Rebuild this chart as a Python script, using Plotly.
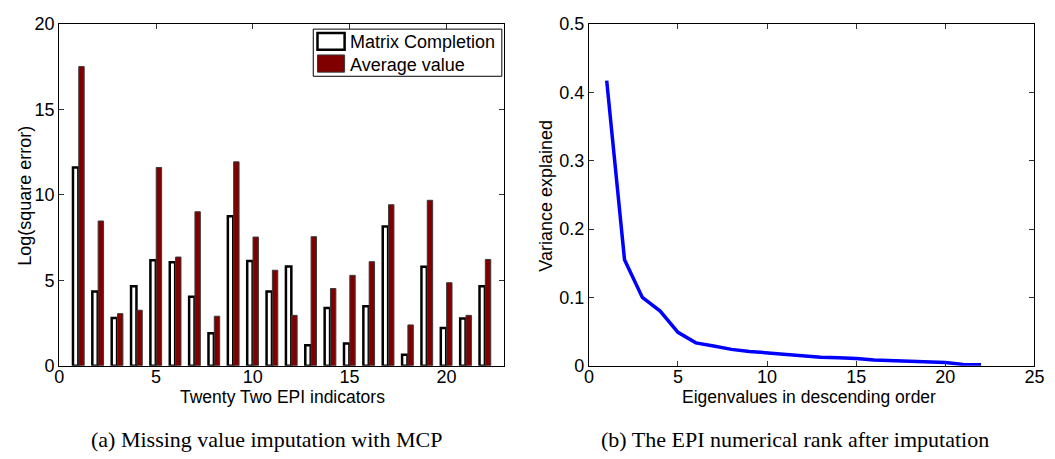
import plotly.graph_objects as go

# ---------------- data ----------------
indicators = list(range(1, 23))
matrix_completion = [11.6, 4.35, 2.8, 4.65, 6.17, 6.06, 4.04, 1.91, 8.75, 6.13, 4.34,
                     5.81, 1.20, 3.38, 1.31, 3.48, 8.15, 0.64, 5.79, 2.21, 2.77, 4.65]
average_value = [17.5, 8.47, 3.05, 3.25, 11.6, 6.36, 9.01, 2.90, 11.93, 7.53, 5.59,
                 2.95, 7.55, 4.52, 5.29, 6.09, 9.42, 2.39, 9.68, 4.86, 2.95, 6.22]

eig_index = list(range(1, 23))
variance_explained = [0.417, 0.155, 0.100, 0.080, 0.049, 0.0335, 0.029, 0.024, 0.021,
                      0.019, 0.0167, 0.014, 0.0126, 0.0116, 0.0107, 0.0084, 0.0074,
                      0.0065, 0.0056, 0.0047, 0.0020, 0.0014]

left_xticks = [0, 5, 10, 15, 20]
left_yticks = [0, 5, 10, 15, 20]
right_xticks = [0, 5, 10, 15, 20, 25]
right_yticks = [0, 0.1, 0.2, 0.3, 0.4, 0.5]

W, H = 1055, 459
SANS = "Liberation Sans, Arial, Helvetica, sans-serif"
SERIF = "Liberation Serif, Times New Roman, serif"
DARKRED = "#800000"


def px(x):
    return x / W


def py(y):
    return 1 - y / H


fig = go.Figure()

fig.add_trace(go.Bar(
    x=indicators, y=matrix_completion, name="Matrix Completion",
    marker=dict(color="white", line=dict(color="black", width=2.5)),
    xaxis="x", yaxis="y", showlegend=False,
))
fig.add_trace(go.Bar(
    x=indicators, y=average_value, name="Average value",
    marker=dict(color=DARKRED, line=dict(color="#3a3a3a", width=1)),
    xaxis="x", yaxis="y", showlegend=False,
))
fig.add_trace(go.Scatter(
    x=eig_index, y=variance_explained, mode="lines", name="Variance explained",
    line=dict(color="#0000ff", width=3.5),
    xaxis="x2", yaxis="y2", showlegend=False,
))

axis_common = dict(
    showline=True, linecolor="black", linewidth=1, mirror="ticks",
    ticks="inside", ticklen=5, tickcolor="#333333", tickwidth=1,
    showgrid=False, zeroline=False,
    tickfont=dict(family=SANS, size=18, color="black"),
)

ydom = [py(372), py(14.5)]

fig.update_layout(
    width=W, height=H,
    margin=dict(l=0, r=0, t=0, b=0),
    paper_bgcolor="white", plot_bgcolor="white",
    barmode="group", bargap=0.4, bargroupgap=0.07,
    xaxis=dict(domain=[px(55), px(506.7)], range=[0, 23], tickvals=left_xticks,
               anchor="y", ticklabelstandoff=-5, **axis_common),
    yaxis=dict(domain=ydom, range=[0, 20], tickvals=left_yticks,
               anchor="x", **axis_common),
    xaxis2=dict(domain=[px(592.3), px(1044.3)], range=[0, 25], tickvals=right_xticks,
                anchor="y2", ticklabelstandoff=-5, **axis_common),
    yaxis2=dict(domain=ydom, range=[0, 0.5], tickvals=right_yticks,
                ticktext=["0", "0.1", "0.2", "0.3", "0.4", "0.5"],
                anchor="x2", **axis_common),
    showlegend=False,
)

ann_font = dict(family=SANS, size=18, color="black")
title_font = dict(family=SANS, size=17.5, color="black")
annotations = [
    dict(text="Twenty Two EPI indicators", x=px(281.7), y=py(405), xref="paper", yref="paper",
         xanchor="center", yanchor="middle", showarrow=False, font=title_font),
    dict(text="Eigenvalues in descending order", x=px(816), y=py(405), xref="paper", yref="paper",
         xanchor="center", yanchor="middle", showarrow=False, font=title_font),
    dict(text="Log(square error)", x=px(19.5), y=py(194), xref="paper", yref="paper",
         xanchor="center", yanchor="middle", textangle=-90, showarrow=False, font=ann_font),
    dict(text="Variance explained", x=px(548), y=py(194), xref="paper", yref="paper",
         xanchor="center", yanchor="middle", textangle=-90, showarrow=False, font=ann_font),
    dict(text="(a) Missing value imputation with MCP", x=px(265), y=py(449), xref="paper", yref="paper",
         xanchor="center", yanchor="middle", showarrow=False,
         font=dict(family=SERIF, size=22, color="black")),
    dict(text="(b) The EPI numerical rank after imputation", x=px(801), y=py(449), xref="paper", yref="paper",
         xanchor="center", yanchor="middle", showarrow=False,
         font=dict(family=SERIF, size=22, color="black")),
    # legend labels
    dict(text="Matrix Completion", x=px(348), y=py(33), xref="paper", yref="paper",
         xanchor="left", yanchor="middle", showarrow=False, font=ann_font),
    dict(text="Average value", x=px(348), y=py(57), xref="paper", yref="paper",
         xanchor="left", yanchor="middle", showarrow=False, font=ann_font),
]

shapes = [
    # legend box
    dict(type="rect", xref="paper", yref="paper", x0=px(312.7), x1=px(504), y0=py(69.3), y1=py(20),
         line=dict(color="black", width=1), fillcolor="white", layer="above"),
    # swatches
    dict(type="rect", xref="paper", yref="paper", x0=px(317), x1=px(344.5), y0=py(41.5), y1=py(24),
         line=dict(color="black", width=2.5), fillcolor="white", layer="above"),
    dict(type="rect", xref="paper", yref="paper", x0=px(317), x1=px(344.5), y0=py(65), y1=py(47),
         line=dict(color="#3a3a3a", width=1), fillcolor=DARKRED, layer="above"),
]

fig.update_layout(annotations=annotations, shapes=shapes)

fig.write_html(
    "out.html",
    config={"displayModeBar": False},
    post_script="document.body.style.margin='0';document.body.style.overflow='hidden';",
)
